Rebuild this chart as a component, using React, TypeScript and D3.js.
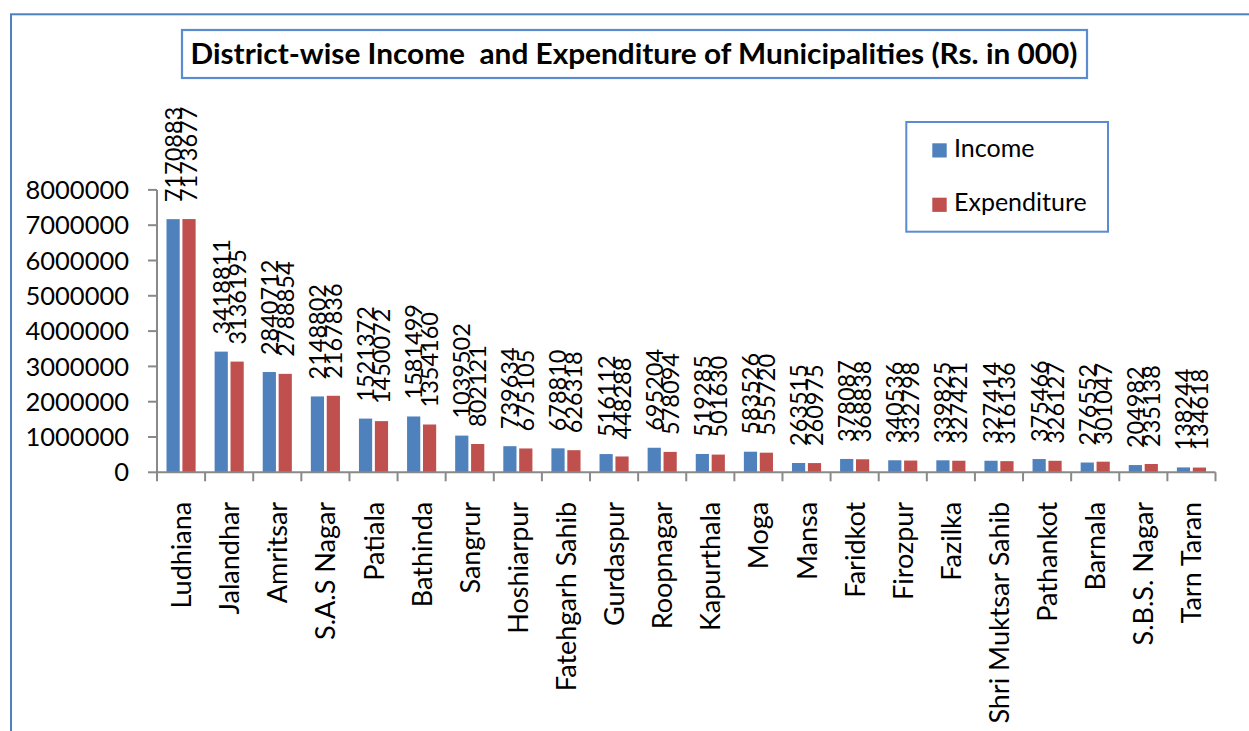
import React from "react";
import * as d3 from "d3";

const categories = [
  "Ludhiana", "Jalandhar", "Amritsar", "S.A.S Nagar", "Patiala", "Bathinda", "Sangrur",
  "Hoshiarpur", "Fatehgarh Sahib", "Gurdaspur", "Roopnagar", "Kapurthala", "Moga", "Mansa",
  "Faridkot", "Firozpur", "Fazilka", "Shri Muktsar Sahib", "Pathankot", "Barnala",
  "S.B.S. Nagar", "Tarn Taran",
];
const income = [
  7170883, 3418811, 2840712, 2148802, 1521372, 1581499, 1039502, 739634, 678810, 516112,
  695204, 519285, 583526, 263515, 378087, 340536, 339825, 327414, 375466, 276552, 204982, 138244,
];
const expenditure = [
  7173677, 3136195, 2788854, 2167836, 1450072, 1354160, 802121, 675105, 626318, 448288,
  578094, 501630, 555720, 260975, 368838, 332798, 327421, 316136, 326127, 301047, 235138, 134618,
];
const seriesNames = ["Income", "Expenditure"];
const seriesColors = ["#4f81bd", "#c0504d"];
const yTicks = [0, 1000000, 2000000, 3000000, 4000000, 5000000, 6000000, 7000000, 8000000];
const title = "District-wise Income  and Expenditure of Municipalities (Rs. in 000)";

const W = 1249;
const H = 731;
const plot = { left: 157, right: 1215.5, top: 189.9, bottom: 472.3 };
const FONT = "Lato, 'Open Sans', sans-serif";
const AXIS = "#898989";
const BOX = "#5b8bd0";

export default function App() {
  const x0 = d3.scaleBand<string>().domain(categories).range([plot.left, plot.right]).padding(0);
  const x1 = d3
    .scaleBand<string>()
    .domain(seriesNames)
    .range([9.5, x0.bandwidth() - 9.5])
    .paddingInner(0.17)
    .paddingOuter(0);
  const y = d3.scaleLinear().domain([0, 8000000]).range([plot.bottom, plot.top]);
  const series = [income, expenditure];
  const boundaries = d3.range(categories.length + 1).map((i) => plot.left + i * x0.step());

  return (
    <svg
      width={W}
      height={H}
      viewBox={`0 0 ${W} ${H}`}
      style={{ position: "absolute", left: 0, top: 0, background: "#fff" }}
      fontFamily={FONT}
    >
      <rect x={0} y={0} width={W} height={H} fill="#fff" />
      {/* outer chart border (cropped) */}
      <rect x={11} y={14.3} width={1400} height={900} fill="none" stroke="#4f81bd" strokeWidth={2} />

      {/* title */}
      <rect x={182} y={30} width={905} height={48} fill="#fff" stroke={BOX} strokeWidth={2.2} />
      <text
        x={634}
        y={64}
        textAnchor="middle"
        fontWeight={700}
        fontSize={29}
        fill="#000"
        textLength={887}
        lengthAdjust="spacingAndGlyphs"
        style={{ whiteSpace: "pre" }}
      >
        {title}
      </text>

      {/* legend */}
      <rect x={906.3} y={122} width={201.7} height={109.7} fill="#fff" stroke={BOX} strokeWidth={2} />
      {seriesNames.map((s, i) => (
        <g key={s} transform={`translate(932.3, ${143.3 + i * 54.4})`}>
          <rect x={0} y={0} width={14.4} height={14.2} fill={seriesColors[i]} />
          <text x={21.7} y={13.6} fontSize={25} fill="#000">
            {s}
          </text>
        </g>
      ))}

      {/* y axis */}
      <line x1={plot.left} x2={plot.left} y1={y(8000000)} y2={y(0)} stroke={AXIS} strokeWidth={2} />
      {yTicks.map((t) => (
        <g key={t}>
          <line x1={plot.left - 9} x2={plot.left} y1={y(t)} y2={y(t)} stroke={AXIS} strokeWidth={2} />
          <text x={129} y={y(t)} dy="0.36em" textAnchor="end" fontSize={25.5} fill="#000">
            {t}
          </text>
        </g>
      ))}

      {/* bars */}
      {categories.map((c, ci) => (
        <g key={c} transform={`translate(${x0(c)},0)`}>
          {seriesNames.map((s, si) => {
            const v = series[si][ci];
            return (
              <rect
                key={s}
                x={x1(s)}
                y={y(v)}
                width={x1.bandwidth()}
                height={y(0) - y(v)}
                fill={seriesColors[si]}
              />
            );
          })}
        </g>
      ))}

      {/* x axis */}
      <line x1={plot.left} x2={plot.right} y1={y(0)} y2={y(0)} stroke={AXIS} strokeWidth={2} />
      {boundaries.map((bx, i) => (
        <line key={i} x1={bx} x2={bx} y1={y(0)} y2={y(0) + 9} stroke={AXIS} strokeWidth={2} />
      ))}

      {/* data labels */}
      {categories.map((c, ci) =>
        seriesNames.map((s, si) => {
          const v = series[si][ci];
          const cx = (x0(c) as number) + (x1(s) as number) + x1.bandwidth() / 2;
          return (
            <text
              key={c + s}
              transform={`translate(${cx}, ${y(v) - 17}) rotate(-90)`}
              dy="0.36em"
              textAnchor="start"
              fontSize={23.5}
              fill="#000"
            >
              {v}
            </text>
          );
        })
      )}

      {/* category labels */}
      {categories.map((c) => (
        <text
          key={c}
          transform={`translate(${(x0(c) as number) + x0.bandwidth() / 2}, ${y(0) + 29.5}) rotate(-90)`}
          dy="0.37em"
          textAnchor="end"
          fontSize={27}
          fill="#000"
        >
          {c}
        </text>
      ))}
    </svg>
  );
}
